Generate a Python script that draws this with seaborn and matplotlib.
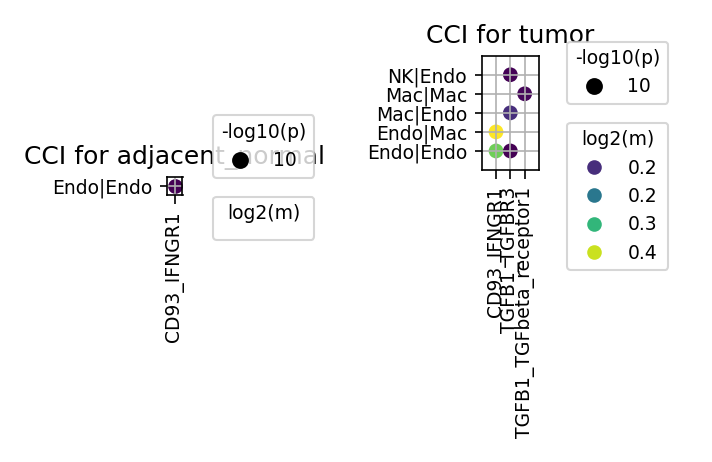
import numpy as np
import pandas as pd
import seaborn as sns
import matplotlib as mpl
import matplotlib.pyplot as plt
from matplotlib.lines import Line2D

# adjacent_normal sample
normal_pairs = ["Endo|Endo"]
normal_lr = ["CD93_IFNGR1"]
normal_logm = [0.21]
normal_logp = [10]

# tumor sample (row order sets the category order on both axes)
tumor_pairs = ["Endo|Endo", "Endo|Mac", "Endo|Endo", "Mac|Endo", "Mac|Mac", "NK|Endo"]
tumor_lr = ["CD93_IFNGR1", "CD93_IFNGR1", "TGFB1_TGFBR3", "TGFB1_TGFBR3",
            "TGFB1_TGFbeta_receptor1", "TGFB1_TGFBR3"]
tumor_logm = [0.323, 0.365, 0.175, 0.200, 0.178, 0.176]
tumor_logp = [10, 10, 10, 10, 10, 10]

# legend entries for log2(m) on the tumor panel
tumor_levels = [0.20, 0.25, 0.30, 0.35]
tumor_level_labels = ["0.2", "0.2", "0.3", "0.4"]

W, H = 712, 462
fig = plt.figure(figsize=(W / 150, H / 150), dpi=150)


def px_axes(x0, x1, ytop, ybot):
    return fig.add_axes([x0 / W, 1 - ybot / H, (x1 - x0) / W, (ybot - ytop) / H])


def dot_panel(ax, pairs, lrs, logm, logp, title, levels, level_labels,
              leg_x, leg1_bottom, leg2_top):
    df = pd.DataFrame({"pair": pairs, "lr": lrs, "log2m": logm, "nlogp": logp})
    sns.scatterplot(data=df, x="lr", y="pair", hue="log2m", palette="viridis",
                    size="nlogp", sizes={10: 50}, linewidth=0, legend=False, ax=ax)
    nx, ny = df["lr"].nunique(), df["pair"].nunique()
    ax.set_xlim(-1, nx)
    ax.set_ylim(-1, ny)
    ax.grid(True)
    ax.set_xlabel("")
    ax.set_ylabel("")
    ax.tick_params(axis="x", labelrotation=90, labelsize=9, length=4.4)
    ax.tick_params(axis="y", labelsize=9)
    ax.set_title(title, fontsize=12)

    # size legend
    size_handles = [Line2D([], [], marker="o", linestyle="none", color="black",
                           markersize=np.sqrt(v * 5)) for v in sorted(set(logp))]
    size_labels = [str(v) for v in sorted(set(logp))]
    leg1 = ax.legend(size_handles, size_labels, title="-log10(p)", loc="lower left",
                     bbox_to_anchor=(leg_x / W, 1 - leg1_bottom / H, 101 / W, 0),
                     bbox_transform=fig.transFigure, mode="expand", borderaxespad=0,
                     fontsize=9, title_fontsize=9)
    ax.add_artist(leg1)

    # colour legend
    norm = mpl.colors.Normalize(min(logm), max(logm))
    cmap = mpl.colormaps["viridis"]
    col_handles = [Line2D([], [], marker="o", linestyle="none", color=cmap(norm(v)),
                          markersize=6) for v in levels]
    ax.legend(col_handles, level_labels, title="log2(m)", loc="upper left",
              bbox_to_anchor=(leg_x / W, 1 - leg2_top / H, 101 / W, 0),
              bbox_transform=fig.transFigure, mode="expand", borderaxespad=0,
              fontsize=9, title_fontsize=9)


ax1 = px_axes(166.5, 182.5, 177, 195)
dot_panel(ax1, normal_pairs, normal_lr, normal_logm, normal_logp,
          "CCI for adjacent_normal", [], [], 213.3, 177.7, 196.7)

ax2 = px_axes(481.7, 539, 55.7, 170)
dot_panel(ax2, tumor_pairs, tumor_lr, tumor_logm, tumor_logp,
          "CCI for tumor", tumor_levels, tumor_level_labels, 567.3, 104, 122.7)

fig.savefig("out.png", dpi=150)
